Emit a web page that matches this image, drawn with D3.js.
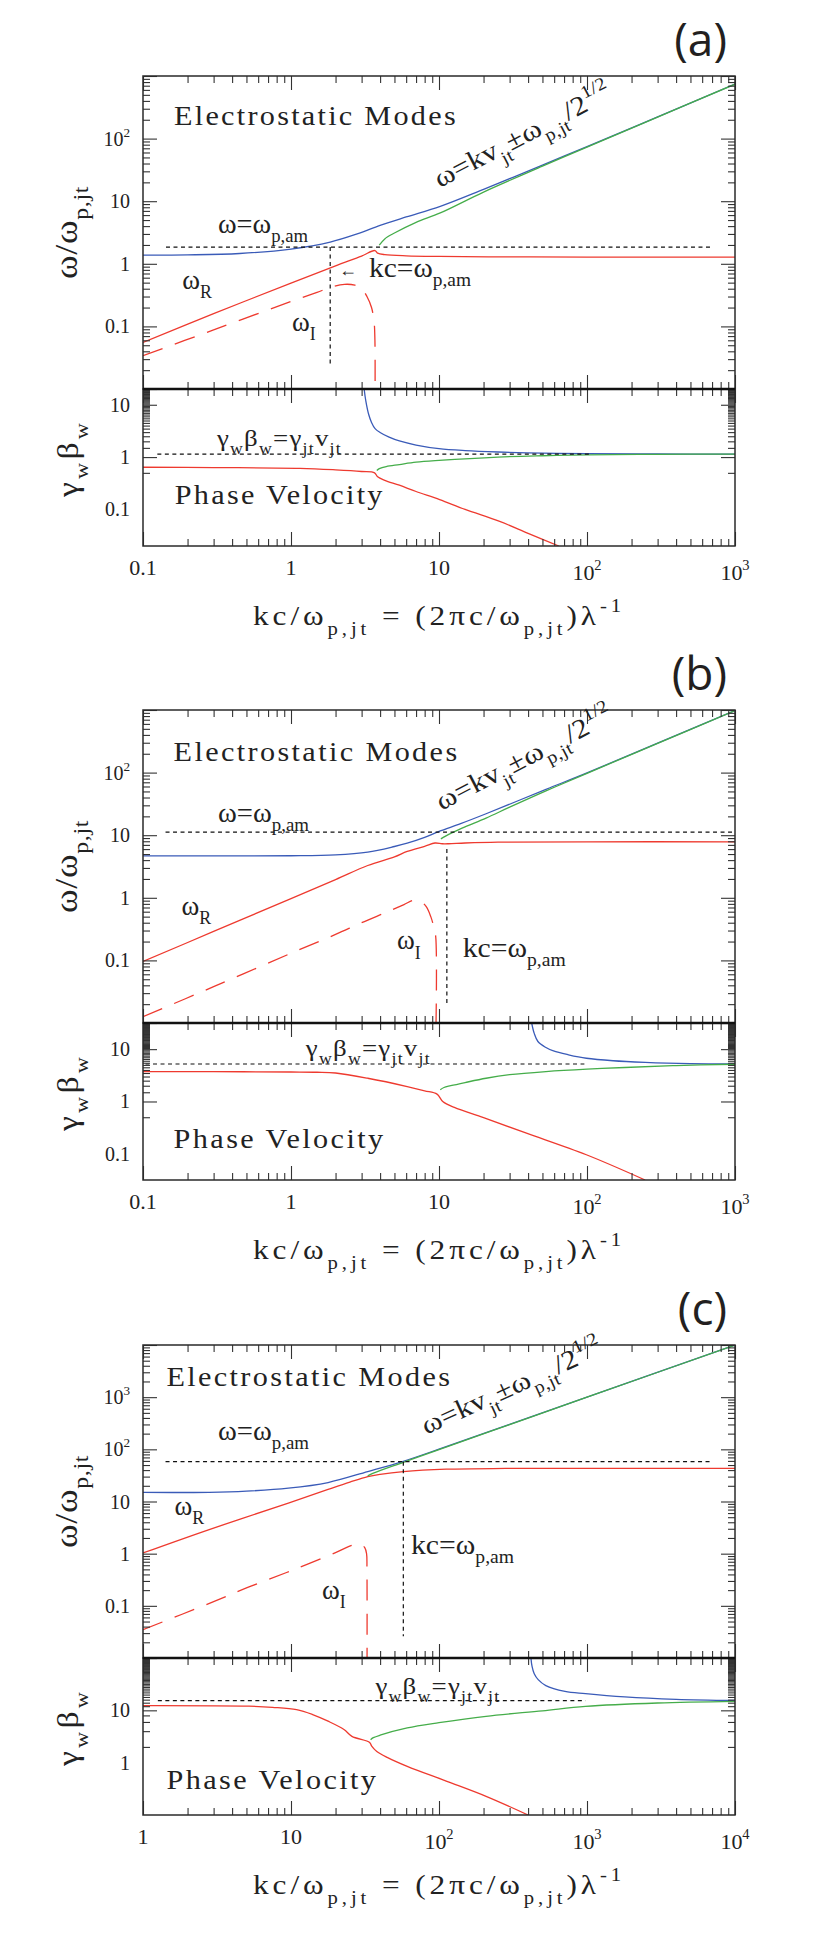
<!DOCTYPE html>
<html>
<head>
<meta charset="utf-8">
<script src="https://cdn.jsdelivr.net/npm/d3@7"></script>
<style>
html, body { margin: 0; padding: 0; background: #fff; }
svg { display: block; }
</style>
</head>
<body>
<svg id="chart" width="830" height="1937"></svg>
<script>
'use strict';

//----- DATA : panel (a) ---------------------------//
var A_X = [0.1, 1e3], A_YUP = [0.01, 1e3], A_YLO = [0.02, 20];
var A_XTICKS = [0.1, 1, 10, 100, 1000], A_UPTICKS = [0.1, 1, 10, 100], A_LOTICKS = [0.1, 1, 10];
var A_UP_BLUE = [[0.1,1.38],[0.2,1.39],[0.45,1.46],[1,1.72],[1.84,2.22],[2.8,3.0],[4,4.1],[6,5.6],[10.2,8.3],[20,15.5],[50,37.7],[100,74.7],[300,222],[1000,741]];
var A_UP_GREEN = [[3.95,1.98],[4.3,2.5],[5,3.1],[7,4.6],[10.2,6.5],[20,14],[50,36.3],[100,73.3],[300,221],[1000,739]];
var A_UP_RED = [[0.1,0.0553],[0.3,0.16],[1,0.49],[2,0.93],[3,1.33],[3.69,1.63],[3.85,1.48],[4.3,1.4],[6,1.34],[10,1.31],[30,1.29],[100,1.28],[1000,1.28]];
var A_UP_RED_I = [[0.1,0.034],[0.3,0.088],[1,0.25],[1.5,0.35],[1.9,0.43],[2.3,0.47],[2.7,0.455],[3.0,0.4],[3.26,0.3],[3.5,0.2],[3.64,0.12],[3.69,0.06],[3.7,0.0101]];
var A_LO_BLUE = [[3.12,20],[3.2,12],[3.35,6.5],[3.5,4.6],[3.7,3.5],[4,2.95],[4.6,2.4],[5.4,2.03],[7,1.7],[10,1.45],[15,1.33],[25,1.25],[50,1.19],[100,1.16],[300,1.145],[1000,1.14]];
var A_LO_GREEN = [[3.8,0.555],[3.95,0.6],[4.4,0.66],[5.4,0.72],[7,0.8],[10,0.865],[25,1.0],[50,1.06],[100,1.1],[300,1.13],[1000,1.14]];
var A_LO_RED = [[0.1,0.64],[0.3,0.63],[1.15,0.61],[2,0.57],[3,0.53],[3.67,0.5],[3.85,0.42],[4.3,0.36],[5.4,0.29],[7,0.22],[10.1,0.154],[15,0.1],[25.7,0.059],[40,0.035],[64.5,0.02]];
var A_WPAM = [[0.143,1.85],[680,1.85]];
var A_KC = [[1.84,1.85],[1.84,0.0245]];
var A_GB = [[0.125,1.14],[104,1.14]];

//----- DATA : panel (b) ---------------------------//
var B_X = [0.1, 1e3], B_YUP = [0.01, 1e3], B_YLO = [0.0316, 31.6];
var B_XTICKS = [0.1, 1, 10, 100, 1000], B_UPTICKS = [0.1, 1, 10, 100], B_LOTICKS = [0.1, 1, 10];
var B_UP_BLUE = [[0.1,4.69],[0.3,4.69],[1,4.7],[2,4.85],[3.3,5.37],[5,6.6],[6.1,7.45],[8,9.2],[10,11.5],[14,15.3],[20.8,22],[52.8,54],[100,99],[300,295],[1000,980]];
var B_UP_GREEN = [[10.3,8.75],[11,9.6],[12.5,11.2],[15,13.6],[20.8,18.8],[30,28],[52.8,51],[100,97.5],[300,293],[1000,978]];
var B_UP_RED = [[0.1,0.096],[0.3,0.29],[1,0.97],[2,1.95],[3.3,3.28],[5,4.5],[6.1,5.5],[8,6.65],[9.4,7.5],[10.5,7.3],[11.6,7.3],[15,7.5],[25,7.75],[100,7.85],[1000,7.85]];
var B_UP_RED_I = [[0.1,0.0126],[0.3,0.038],[1,0.13],[2,0.26],[3,0.4],[4.5,0.6],[5.8,0.78],[6.7,0.91],[7.5,0.88],[8.2,0.72],[8.8,0.5],[9.2,0.35],[9.5,0.24],[9.55,0.0101]];
var B_LO_BLUE = [[42.3,31.6],[44,20],[46.6,14],[52,11],[59.4,9.25],[75,7.8],[99,6.7],[150,6.0],[247,5.6],[500,5.3],[1000,5.2]];
var B_LO_GREEN = [[10.2,1.67],[10.8,1.85],[12,2.0],[15,2.3],[20.8,2.78],[30,3.25],[52.8,3.73],[100,4.15],[180,4.46],[400,4.85],[1000,5.15]];
var B_LO_RED = [[0.1,3.73],[0.3,3.72],[1,3.66],[1.5,3.62],[2,3.5],[3.3,2.78],[6.1,1.93],[8,1.6],[9.7,1.38],[10.6,1.0],[12.7,0.77],[20,0.49],[39,0.248],[99,0.096],[247,0.0316]];
var B_WPAM = [[0.142,11.2],[985,11.2]];
var B_KC = [[11.3,6.0],[11.3,0.0195]];
var B_GB = [[0.104,5.2],[96,5.2]];

//----- DATA : panel (c) ---------------------------//
var C_X = [1, 1e4], C_YUP = [0.01, 1e4], C_YLO = [0.1, 100];
var C_XTICKS = [1, 10, 100, 1000, 10000], C_UPTICKS = [0.1, 1, 10, 100, 1000], C_LOTICKS = [1, 10];
var C_UP_BLUE = [[1,14.9],[2.8,15],[5,15.8],[9.6,18],[17.8,23.1],[33,37.5],[57.4,59],[100,101],[300,300],[1000,998],[10000,9980]];
var C_UP_GREEN = [[33,31],[36,35],[57.4,56.5],[100,99],[300,298],[1000,997],[10000,9970]];
var C_UP_RED = [[1,1.03],[2.8,2.9],[9.6,9.3],[17.8,17],[25,23.5],[33,30],[40,33.2],[57.4,37.5],[112,41.6],[283,43],[10000,43]];
var C_UP_RED_I = [[1,0.035],[3,0.12],[5.2,0.23],[10,0.47],[20,1.05],[26.6,1.49],[29.5,1.52],[31.5,1.3],[32.4,1.0],[32.6,0.5],[32.65,0.0101]];
var C_LO_BLUE = [[418,100],[425,70],[440,50],[468,38.6],[527,29.7],[710,23],[977,20.8],[1800,18],[4000,16.2],[10000,15.4]];
var C_LO_GREEN = [[34.5,2.75],[36,3.0],[40,3.35],[61,4.6],[100,5.8],[208,7.7],[500,9.8],[977,11.9],[3000,13.8],[10000,14.8]];
var C_LO_RED = [[1,12.3],[5.2,12],[7.5,11.4],[10.9,10.3],[14,8.3],[17.8,6.2],[22.8,4.3],[25.8,3.18],[34,2.44],[35,2.1],[38,1.64],[45,1.25],[61,0.85],[113,0.44],[208,0.227],[400,0.1]];
var C_WPAM = [[1.42,58],[6800,58]];
var C_KC = [[57.4,58],[57.4,0.026]];
var C_GB = [[1.26,15.3],[977,15.3]];

//----- LAYOUT -------------------------------------//
var LEFT = 143, RIGHT = 735, UPPER_H = 313, LOWER_H = 157,
    MAJOR = 14, MINOR = 7,
    RED = '#ee3a2f', BLUE = '#3a5bb8', GREEN = '#45ad4a', INK = '#222',
    SERIF = '"Liberation Serif", "DejaVu Serif", serif',
    SANS = '"Open Sans", "Noto Sans", sans-serif';

var panels = [
    { tag: '(a)', top: 76, x: A_X, yUp: A_YUP, yLo: A_YLO,
      xTicks: A_XTICKS, upTicks: A_UPTICKS, loTicks: A_LOTICKS,
      up: [A_UP_RED, A_UP_RED_I, A_UP_BLUE, A_UP_GREEN], lo: [A_LO_RED, A_LO_BLUE, A_LO_GREEN],
      wpam: A_WPAM, kc: A_KC, gb: A_GB,
      notesUp: [
          { s: 'Electrostatic Modes', at: [0.162, 165], w: 284 },
          { s: 'ω=ω_{p,am}', at: [0.321, 3.1], w: 90 },
          { s: 'ω_{R}', at: [0.184, 0.395] },
          { s: 'ω_{I}', at: [1.016, 0.0845] },
          { s: '←', at: [2.11, 0.64], size: 18 },
          { s: 'kc=ω_{p,am}', at: [3.37, 0.615], w: 102 },
          { s: 'ω=kv_{jt}±ω_{p,jt}/2^{1/2}', at: [10.1, 16.2], w: 196, rot: -27.5 }
      ],
      notesLo: [
          { s: 'γ_{w}β_{w}=γ_{jt}v_{jt}', at: [0.316, 1.62], w: 125, size: 24 },
          { s: 'Phase Velocity', at: [0.164, 0.128], w: 210 }
      ] },
    { tag: '(b)', top: 710, x: B_X, yUp: B_YUP, yLo: B_YLO,
      xTicks: B_XTICKS, upTicks: B_UPTICKS, loTicks: B_LOTICKS,
      up: [B_UP_RED, B_UP_RED_I, B_UP_BLUE, B_UP_GREEN], lo: [B_LO_RED, B_LO_BLUE, B_LO_GREEN],
      wpam: B_WPAM, kc: B_KC, gb: B_GB,
      notesUp: [
          { s: 'Electrostatic Modes', at: [0.161, 155], w: 286 },
          { s: 'ω=ω_{p,am}', at: [0.321, 16.4], w: 91 },
          { s: 'ω_{R}', at: [0.182, 0.531] },
          { s: 'ω_{I}', at: [5.2, 0.150] },
          { s: 'kc=ω_{p,am}', at: [14.45, 0.1146], w: 103 },
          { s: 'ω=kv_{jt}±ω_{p,jt}/2^{1/2}', at: [10.4, 24.5], w: 196, rot: -27.5 }
      ],
      notesLo: [
          { s: 'γ_{w}β_{w}=γ_{jt}v_{jt}', at: [1.26, 7.5], w: 125, size: 24 },
          { s: 'Phase Velocity', at: [0.161, 0.128], w: 212 }
      ] },
    { tag: '(c)', top: 1345, x: C_X, yUp: C_YUP, yLo: C_YLO,
      xTicks: C_XTICKS, upTicks: C_UPTICKS, loTicks: C_LOTICKS,
      up: [C_UP_RED, C_UP_RED_I, C_UP_BLUE, C_UP_GREEN], lo: [C_LO_RED, C_LO_BLUE, C_LO_GREEN],
      wpam: C_WPAM, kc: C_KC, gb: C_GB,
      notesUp: [
          { s: 'Electrostatic Modes', at: [1.44, 1637], w: 286 },
          { s: 'ω=ω_{p,am}', at: [3.21, 151], w: 91 },
          { s: 'ω_{R}', at: [1.63, 5.5] },
          { s: 'ω_{I}', at: [16.2, 0.1336] },
          { s: 'kc=ω_{p,am}', at: [64.7, 0.986], w: 103 },
          { s: 'ω=kv_{jt}±ω_{p,jt}/2^{1/2}', at: [82, 190], w: 196, rot: -24.5 }
      ],
      notesLo: [
          { s: 'γ_{w}β_{w}=γ_{jt}v_{jt}', at: [37.2, 20.5], w: 125, size: 24 },
          { s: 'Phase Velocity', at: [1.44, 0.31], w: 212 }
      ] }
];

var svg = d3.select('#chart');

//----- RICH TEXT (sub / superscripts) -------------//
function parseRich(s) {
    var parts = [], buf = '', i = 0;
    while (i < s.length) {
        var c = s[i];
        if ((c === '_' || c === '^') && s[i + 1] === '{') {
            if (buf) { parts.push({ t: buf, m: 'n' }); buf = ''; }
            var j = s.indexOf('}', i);
            parts.push({ t: s.slice(i + 2, j), m: c === '_' ? 'sub' : 'sup' });
            i = j + 1;
        } else { buf += c; i++; }
    }
    if (buf) parts.push({ t: buf, m: 'n' });
    return parts;
}

function richText(parent, str, o) {
    var g = parent.append('g')
        .attr('transform', 'translate(' + o.x + ',' + o.y + ')' + (o.rot ? ' rotate(' + o.rot + ')' : ''));
    var t = g.append('text')
        .attr('font-family', o.font || SERIF)
        .attr('font-size', o.size)
        .attr('fill', o.fill || INK)
        .attr('text-anchor', o.anchor || 'start');
    var shift = 0, n = 0;
    parseRich(str).forEach(function (p) {
        var target = p.m === 'sub' ? o.size * 0.34 : p.m === 'sup' ? -o.size * 0.45 : 0;
        t.append('tspan')
            .attr('font-size', p.m === 'n' ? o.size : o.size * 0.66)
            .attr('dy', target - shift)
            .text(p.t);
        shift = target;
        n += p.t.length;
    });
    if (o.w) {
        // stretch partly by glyph width, partly by spacing, like the plotting font
        var w = t.node().getComputedTextLength();
        var sx = Math.min(Math.max(o.w / w, 0.9), 1.12);
        t.attr('letter-spacing', ((o.w / sx - w) / n).toFixed(3));
        var w2 = t.node().getComputedTextLength();
        t.attr('transform', 'scale(' + (o.w / w2).toFixed(4) + ',1)');
    }
    return t;
}

function isMajor(v) {
    var l = Math.log10(v);
    return Math.abs(l - Math.round(l)) < 1e-6;
}

function fmtTick(v) {
    var l = Math.round(Math.log10(v));
    return l >= 2 ? '10^{' + l + '}' : String(+v.toPrecision(3));
}

//----- FRAME WITH INWARD TICKS ON ALL SIDES -------//
function frame(g, x, y) {
    var bot = y.range()[0], top = y.range()[1];
    var xt = x.ticks(60), yt = y.ticks(60);
    var sets = [
        [xt.filter(isMajor), yt.filter(isMajor), MAJOR],
        [xt.filter(function (v) { return !isMajor(v); }), yt.filter(function (v) { return !isMajor(v); }), MINOR]
    ];
    sets.forEach(function (s) {
        g.append('g').attr('transform', 'translate(0,' + bot + ')')
            .call(d3.axisBottom(x).tickValues(s[0]).tickSize(-s[2]).tickSizeOuter(0).tickFormat(''));
        g.append('g').attr('transform', 'translate(0,' + top + ')')
            .call(d3.axisTop(x).tickValues(s[0]).tickSize(-s[2]).tickSizeOuter(0).tickFormat(''));
        g.append('g').attr('transform', 'translate(' + LEFT + ',0)')
            .call(d3.axisLeft(y).tickValues(s[1]).tickSize(-s[2]).tickSizeOuter(0).tickFormat(''));
        g.append('g').attr('transform', 'translate(' + RIGHT + ',0)')
            .call(d3.axisRight(y).tickValues(s[1]).tickSize(-s[2]).tickSizeOuter(0).tickFormat(''));
    });
    g.selectAll('.domain').remove();
    g.selectAll('.tick line').attr('stroke', '#333').attr('stroke-width', 1.1);
    g.append('rect')
        .attr('x', LEFT).attr('y', top)
        .attr('width', RIGHT - LEFT).attr('height', bot - top)
        .attr('fill', 'none').attr('stroke', '#2a2a2a').attr('stroke-width', 1.5);
}

function drawLine(g, x, y, data, color, dash, width) {
    var line = d3.line()
        .x(function (d) { return x(d[0]); })
        .y(function (d) { return y(d[1]); })
        .curve(d3.curveCatmullRom.alpha(0.5));
    g.append('path').datum(data)
        .attr('d', line)
        .attr('fill', 'none')
        .attr('stroke', color)
        .attr('stroke-width', width || 1.3)
        .attr('stroke-dasharray', dash || null);
}

function dotted(g, x, y, data) {
    g.append('path').datum(data)
        .attr('d', d3.line().x(function (d) { return x(d[0]); }).y(function (d) { return y(d[1]); }))
        .attr('fill', 'none').attr('stroke', '#111')
        .attr('stroke-width', 1.2).attr('stroke-dasharray', '4,3.5');
}

function clipFor(id, top, h) {
    svg.append('clipPath').attr('id', id)
        .append('rect').attr('x', LEFT).attr('y', top).attr('width', RIGHT - LEFT).attr('height', h);
    return 'url(#' + id + ')';
}

//----- DRAW ONE PANEL -----------------------------//
function drawPanel(p, idx) {
    var g = svg.append('g');
    var upBot = p.top + UPPER_H, loBot = upBot + LOWER_H;
    var x = d3.scaleLog().domain(p.x).range([LEFT, RIGHT]);
    var yU = d3.scaleLog().domain(p.yUp).range([upBot, p.top]);
    var yL = d3.scaleLog().domain(p.yLo).range([loBot, upBot]);

    // Curves, upper panel
    var gu = g.append('g').attr('clip-path', clipFor('cu' + idx, p.top, UPPER_H));
    drawLine(gu, x, yU, p.up[0], RED);
    drawLine(gu, x, yU, p.up[1], RED, '21,13');
    drawLine(gu, x, yU, p.up[2], BLUE);
    drawLine(gu, x, yU, p.up[3], GREEN);
    dotted(gu, x, yU, p.wpam);
    dotted(gu, x, yU, p.kc);

    // Curves, lower panel
    var gl = g.append('g').attr('clip-path', clipFor('cl' + idx, upBot, LOWER_H));
    drawLine(gl, x, yL, p.lo[0], RED);
    drawLine(gl, x, yL, p.lo[1], BLUE);
    drawLine(gl, x, yL, p.lo[2], GREEN);
    dotted(gl, x, yL, p.gb);

    frame(g, x, yU);
    frame(g, x, yL);
    g.append('line')
        .attr('x1', LEFT).attr('x2', RIGHT).attr('y1', upBot).attr('y2', upBot)
        .attr('stroke', '#111').attr('stroke-width', 2.6);

    // Tick labels
    p.upTicks.forEach(function (v) {
        richText(g, fmtTick(v), { x: LEFT - 13, y: yU(v) + 7, size: 20, anchor: 'end' });
    });
    p.loTicks.forEach(function (v) {
        richText(g, fmtTick(v), { x: LEFT - 13, y: yL(v) + 7, size: 20, anchor: 'end' });
    });
    p.xTicks.forEach(function (v) {
        var s = fmtTick(v);
        richText(g, s, { x: x(v), y: loBot + (s.indexOf('^') >= 0 ? 34 : 29), size: 22, anchor: 'middle' });
    });

    // Annotations (placed in data coordinates)
    p.notesUp.forEach(function (n) {
        richText(g, n.s, { x: x(n.at[0]), y: yU(n.at[1]), size: n.size || 27, w: n.w, rot: n.rot });
    });
    p.notesLo.forEach(function (n) {
        richText(g, n.s, { x: x(n.at[0]), y: yL(n.at[1]), size: n.size || 27, w: n.w, rot: n.rot });
    });

    // Axis titles
    richText(g, 'kc/ω_{p,jt} = (2πc/ω_{p,jt})λ^{-1}',
        { x: (LEFT + RIGHT) / 2, y: loBot + 79, size: 28, w: 372, anchor: 'middle' });
    richText(g, 'ω/ω_{p,jt}',
        { x: 77, y: p.top + UPPER_H / 2, size: 32, w: 93, anchor: 'middle', rot: -90 });
    richText(g, 'γ_{w}β_{w}',
        { x: 78, y: upBot + LOWER_H / 2 - 9, size: 30, w: 77, anchor: 'middle', rot: -90 });

    // Panel tag
    richText(g, p.tag,
        { x: 727, y: p.top - 20, size: 46, anchor: 'end', font: SANS, fill: '#231f20' });
}

panels.forEach(drawPanel);
</script>
</body>
</html>
